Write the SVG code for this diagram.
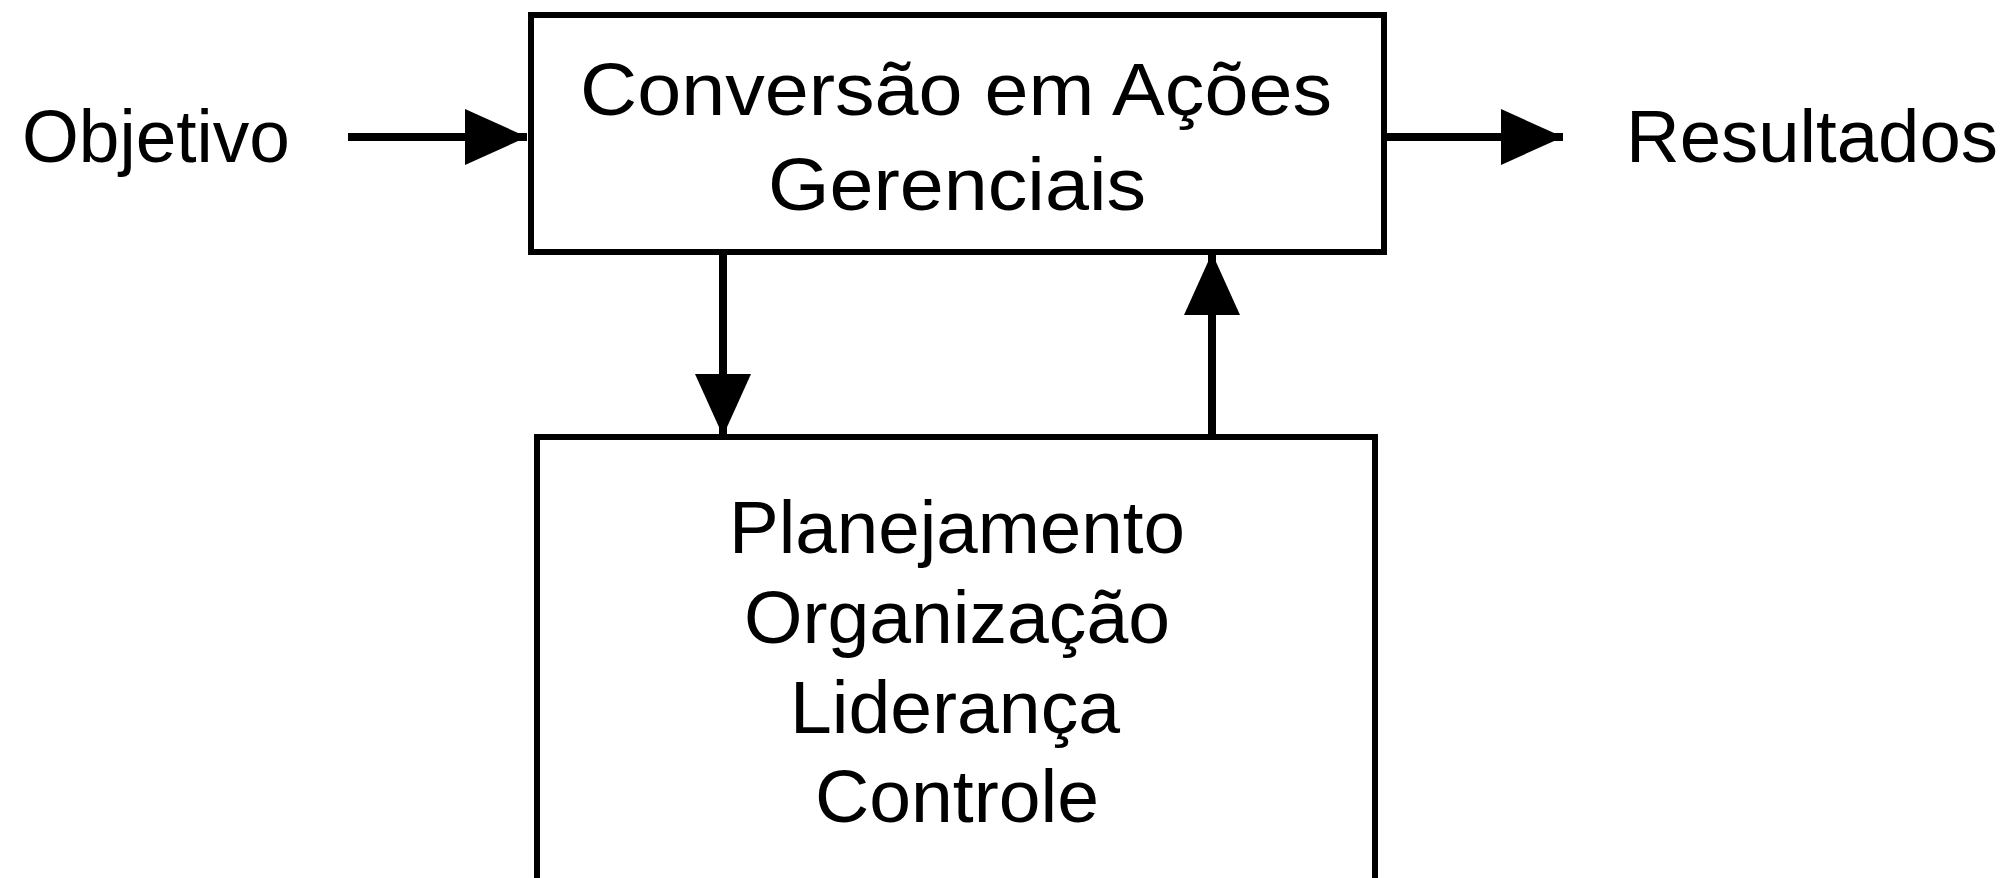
<svg xmlns="http://www.w3.org/2000/svg" width="2006" height="878" viewBox="0 0 2006 878">
<style>
.box{fill:#fff;stroke:#000;stroke-width:6}
.t{font-family:"Liberation Sans",Arial,sans-serif;font-size:75px;fill:#000}
.ln{stroke:#000;stroke-width:8;fill:none}
</style>
<defs>
<marker id="ah" markerUnits="userSpaceOnUse" markerWidth="64" markerHeight="56" refX="62" refY="28" orient="auto">
<path d="M0,0 L62,28 L0,56 Z" fill="#000"/>
</marker>
</defs>
<g id="objetivo"><text class="t" x="22" y="162" textLength="268" lengthAdjust="spacingAndGlyphs">Objetivo</text></g>
<g id="conversao">
<rect class="box" x="531" y="15" width="853" height="237"/>
<text class="t" x="580" y="115" textLength="752" lengthAdjust="spacingAndGlyphs">Conversão em Ações</text>
<text class="t" x="768" y="210" textLength="378" lengthAdjust="spacingAndGlyphs">Gerenciais</text>
</g>
<g id="resultados"><text class="t" x="1626" y="162" textLength="372" lengthAdjust="spacingAndGlyphs">Resultados</text></g>
<g id="funcoes">
<rect class="box" x="537" y="437" width="838" height="460"/>
<text class="t" x="729" y="553" textLength="456" lengthAdjust="spacingAndGlyphs">Planejamento</text>
<text class="t" x="744" y="643" textLength="426" lengthAdjust="spacingAndGlyphs">Organização</text>
<text class="t" x="790" y="733" textLength="330" lengthAdjust="spacingAndGlyphs">Liderança</text>
<text class="t" x="815" y="822" textLength="284" lengthAdjust="spacingAndGlyphs">Controle</text>
</g>
<g id="connectors">
<line class="ln" x1="348" y1="137" x2="527" y2="137" marker-end="url(#ah)"/>
<line class="ln" x1="1384" y1="137" x2="1563" y2="137" marker-end="url(#ah)"/>
<line class="ln" x1="723" y1="252" x2="723" y2="436" marker-end="url(#ah)"/>
<line class="ln" x1="1212" y1="437" x2="1212" y2="253" marker-end="url(#ah)"/>
</g>
</svg>
